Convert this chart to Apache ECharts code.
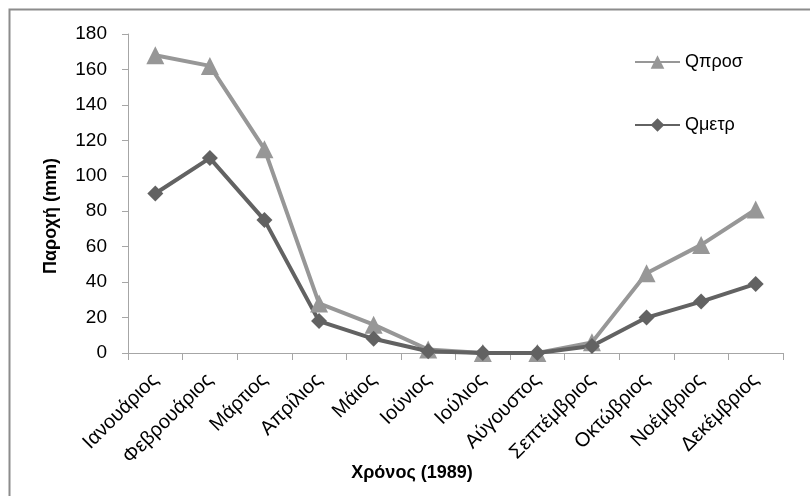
<!DOCTYPE html>
<html><head><meta charset="utf-8">
<script src="https://cdn.jsdelivr.net/npm/echarts@6/dist/echarts.min.js"></script>
<style>html,body{margin:0;padding:0;background:#fff}#c{width:810px;height:496px}</style>
</head><body><div id="c"></div>
<script>
var months = ['Ιανουάριος','Φεβρουάριος','Μάρτιος','Απρίλιος','Μάιος','Ιούνιος','Ιούλιος','Αύγουστος','Σεπτέμβριος','Οκτώβριος','Νοέμβριος','Δεκέμβριος'];
var qpros = [168, 162, 115, 28, 16, 2, 0, 0, 6, 45, 61, 81];
var qmetr = [90, 110, 75, 18, 8, 1, 0, 0, 4, 20, 29, 39];
var yTicks = [0, 20, 40, 60, 80, 100, 120, 140, 160, 180];

var FONT = '"Liberation Sans", "DejaVu Sans", sans-serif';
var chart = echarts.init(document.getElementById('c'), null, {renderer: 'canvas'});
chart.setOption({
  animation: false,
  textStyle: {fontFamily: FONT},
  grid: {left: 128, right: 27, top: 34, bottom: 143},
  graphic: [
    {type: 'rect', shape: {x: 9.5, y: 9.5, width: 820, height: 520}, style: {fill: 'none', stroke: '#8c8c8c', lineWidth: 2}, silent: true},
    {type: 'text', x: 412, y: 473, style: {text: 'Χρόνος (1989)', font: 'bold 18px ' + FONT, fill: '#000', align: 'center', verticalAlign: 'middle'}},
    {type: 'text', x: 51, y: 216, rotation: Math.PI / 2, style: {text: 'Παροχή (mm)', font: 'bold 18px ' + FONT, fill: '#000', align: 'center', verticalAlign: 'middle'}}
  ],
  legend: [
    {left: 629, top: 48, itemWidth: 45, itemHeight: 17, itemGap: 0,
     textStyle: {fontSize: 18, color: '#000', fontFamily: FONT}, data: ['Qπροσ']},
    {left: 629, top: 111, itemWidth: 45, itemHeight: 17, itemGap: 0,
     textStyle: {fontSize: 18, color: '#000', fontFamily: FONT}, data: ['Qμετρ']}
  ],
  xAxis: {
    type: 'category', data: months, boundaryGap: true,
    axisLine: {lineStyle: {color: '#a6a6a6', width: 1}},
    axisTick: {show: true, alignWithLabel: false, length: 7, lineStyle: {color: '#a6a6a6'}},
    axisLabel: {rotate: 45, interval: 0, fontSize: 20, color: '#000', margin: 24}
  },
  yAxis: {
    type: 'value', min: 0, max: 180, interval: 20,
    axisLine: {show: true, lineStyle: {color: '#a6a6a6', width: 1}},
    axisTick: {show: true, length: 6, lineStyle: {color: '#a6a6a6'}},
    splitLine: {show: false},
    axisLabel: {fontSize: 19, color: '#000', margin: 21,
      formatter: function (v) { return yTicks.indexOf(v) >= 0 ? String(v) : ''; }}
  },
  series: [
    {name: 'Qπροσ', type: 'line', data: qpros, symbol: 'triangle', symbolSize: 18,
     lineStyle: {color: '#979797', width: 4}, itemStyle: {color: '#979797'}},
    {name: 'Qμετρ', type: 'line', data: qmetr, symbol: 'diamond', symbolSize: 16,
     lineStyle: {color: '#626262', width: 4}, itemStyle: {color: '#626262'}}
  ]
});
</script></body></html>
